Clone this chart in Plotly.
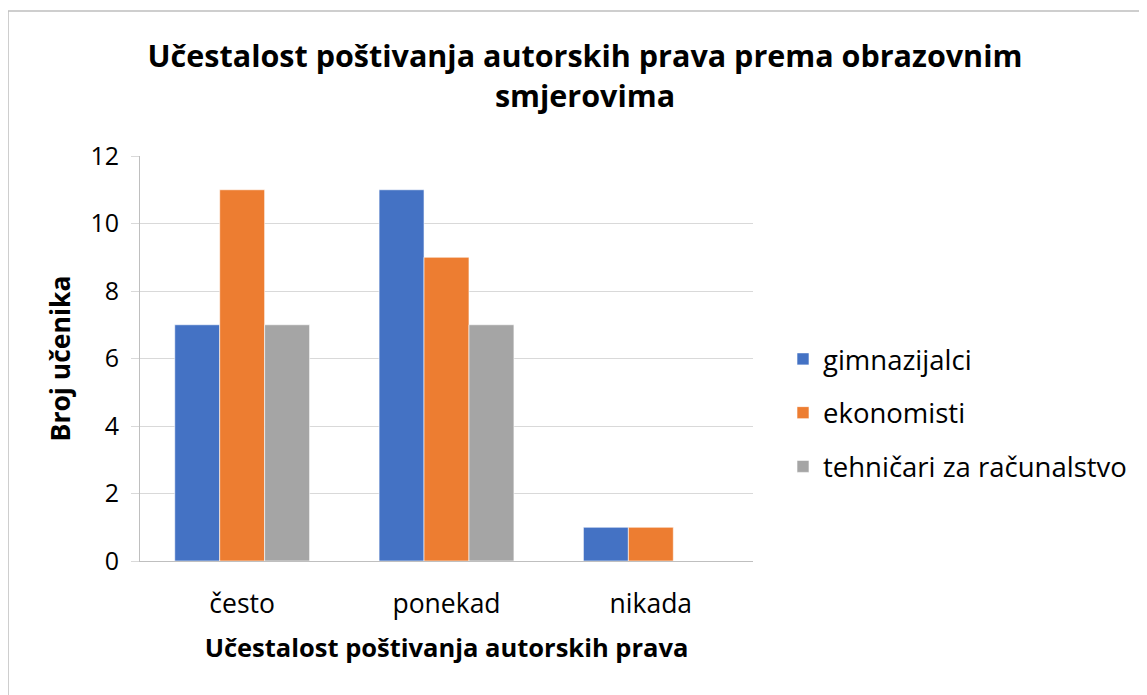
import plotly.graph_objects as go

# podaci
kategorije = ["često", "ponekad", "nikada"]
gimnazijalci = [7, 11, 1]
ekonomisti = [11, 9, 1]
tehnicari = [7, 7, 0]
serije = [
    ("gimnazijalci", gimnazijalci, "#4472C4"),
    ("ekonomisti", ekonomisti, "#ED7D31"),
    ("tehničari za računalstvo", tehnicari, "#A5A5A5"),
]
y_ticks = [0, 2, 4, 6, 8, 10, 12]

FONT = "'Open Sans', 'Noto Sans', sans-serif"
W, H = 1147, 695
OFF = 8  # stranica ima marginu od 8px
# rub podrucja crtanja (u koordinatama slike)
PX0, PX1, PY0, PY1 = 140, 753, 156, 561
L, T = PX0 - OFF, PY0 - OFF
R, B = W - (PX1 - OFF), H - (PY1 - OFF)
PW, PH = PX1 - PX0, PY1 - PY0


def px_x(p):
    return (p - PX0) / PW


def px_y(p):
    return (PY1 - p) / PH


fig = go.Figure()
for i, (ime, vrijednosti, boja) in enumerate(serije):
    fig.add_trace(go.Bar(
        name=ime,
        x=kategorije,
        y=vrijednosti,
        marker=dict(color=boja, line=dict(color="white", width=0.6)),
        legendgroup=str(i),
    ))

# okvir grafikona
fig.add_shape(
    type="rect", xref="paper", yref="paper",
    x0=px_x(8), x1=px_x(W + 20),
    y0=px_y(H + 20), y1=px_y(11),
    line=dict(color="#bfbfbf", width=1.5), layer="below",
)

fig.update_layout(
    width=W, height=H,
    margin=dict(l=L, r=R, t=T, b=B),
    barmode="group",
    bargap=0.34,
    bargroupgap=0,
    plot_bgcolor="white",
    paper_bgcolor="white",
    font=dict(family=FONT, color="#000000", size=22),
    title=dict(
        text="<b>Učestalost poštivanja autorskih prava prema obrazovnim<br>smjerovima</b>",
        x=(585 - OFF) / W, xanchor="center",
        y=1 - (67 - OFF) / H, yanchor="top",
        font=dict(size=30.5, family=FONT),
    ),
    legend=dict(
        x=px_x(783), xanchor="left",
        y=px_y(413), yanchor="middle",
        font=dict(size=27.5),
        tracegroupgap=15,
        itemwidth=30,
    ),
)

fig.update_yaxes(
    range=[0, 12],
    tickvals=y_ticks,
    showgrid=True, gridcolor="#d9d9d9", gridwidth=1,
    ticks="outside", ticklen=8, tickcolor="#d9d9d9",
    showline=True, linecolor="#bfbfbf", linewidth=1,
    zeroline=False,
    tickfont=dict(size=25),
    ticklabelstandoff=7,
    title=dict(text="<b>Broj učenika</b>", font=dict(size=26.5), standoff=12),
)
fig.update_xaxes(
    showline=True, linecolor="#bfbfbf", linewidth=1,
    ticks="",
    tickfont=dict(size=26.5),
    ticklabelstandoff=19,
    title=dict(text="<b>Učestalost poštivanja autorskih prava</b>", font=dict(size=25.5), standoff=19),
)

fig.write_html("out.html")
